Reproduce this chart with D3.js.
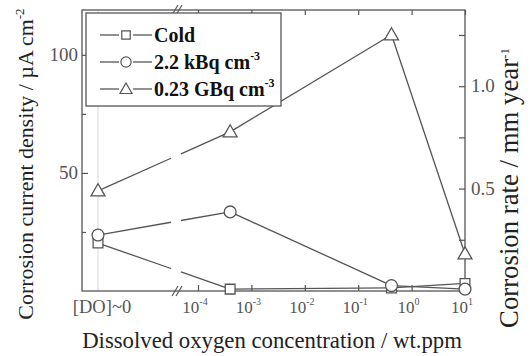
<!DOCTYPE html>
<html>
<head>
<meta charset="utf-8">
<script src="https://cdn.jsdelivr.net/npm/d3@7"></script>
<style>
  body { margin: 0; background: #fff; }
  svg text { font-family: "Liberation Serif", "DejaVu Serif", serif; }
</style>
</head>
<body>
<div id="chart"></div>
<script>
// Datos
const xLabels = ["[DO]~0", 4e-4, 0.42, 10];      // primer punto: sin oxígeno disuelto
const seriesNames = ["Cold", "2.2 kBq cm", "0.23 GBq cm"];
const seriesSup = ["", "-3", "-3"];
const cold = [20.3, 0.8, 1.3, 3.2];
const kbq = [23.7, 33.5, 2.3, 0.8];
const gbq = [42.4, 67.4, 108.5, 15.7];
const leftTicks = [50, 100];
const leftMinor = [25, 75];
const rightTicks = [0.5, 1.0];
const rightMinor = [0.25, 0.75, 1.25];
const logTicks = [-4, -3, -2, -1, 0, 1];

const W = 530, H = 356;
const margin = {top: 10, right: 65, bottom: 65, left: 82};
const x0 = margin.left, x1 = W - margin.right;
const y0 = H - margin.bottom, y1 = margin.top;
const color = "#555";
const serif = "Liberation Serif";

const svg = d3.select("#chart").append("svg")
    .attr("width", W).attr("height", H);

// ajusta el tamaño de letra para ocupar un ancho dado
function ajustar(sel, ancho) {
    const fs = +sel.attr("font-size");
    const len = sel.node().getComputedTextLength();
    sel.attr("font-size", fs * ancho / len);
}

// Escalas
const xDO = x0 + 16;           // posición de [DO]~0
const xBreak = x0 + 96;        // corte del eje
const xLog = d3.scaleLog().domain([1e-4, 10]).range([198, x1]);
const xPos = v => (typeof v === "string" ? xDO : xLog(v));
const y = d3.scaleLinear().domain([0, 119]).range([y0, y1]);
const yR = d3.scaleLinear().domain([0, 1.372]).range([y0, y1]);

// Línea gris en [DO]~0
svg.append("line")
    .attr("x1", xDO).attr("x2", xDO).attr("y1", y1).attr("y2", y0)
    .attr("stroke", "#ddd").attr("stroke-width", 1.2);

// Marco
svg.append("rect")
    .attr("x", x0).attr("y", y1).attr("width", x1 - x0).attr("height", y0 - y1)
    .attr("fill", "none").attr("stroke", color).attr("stroke-width", 1.3);

// Ticks del eje izquierdo (hacia dentro)
svg.append("g").attr("transform", `translate(${x0},0)`)
    .call(d3.axisRight(y).tickValues(leftTicks).tickSize(6).tickFormat(""))
    .call(g => g.select(".domain").remove());
svg.append("g").attr("transform", `translate(${x0},0)`)
    .call(d3.axisRight(y).tickValues(leftMinor).tickSize(4).tickFormat(""))
    .call(g => g.select(".domain").remove());
svg.append("g").selectAll("text").data(leftTicks).join("text")
    .attr("x", x0 - 4).attr("y", d => y(d) + 6)
    .attr("text-anchor", "end").attr("font-size", 19).attr("fill", color)
    .attr("font-family", serif)
    .text(d => d);

// Ticks del eje derecho
svg.append("g").attr("transform", `translate(${x1},0)`)
    .call(d3.axisLeft(yR).tickValues(rightTicks.concat(rightMinor)).tickSize(6).tickFormat(""))
    .call(g => g.select(".domain").remove());
svg.append("g").selectAll("text").data(rightTicks).join("text")
    .attr("x", x1 + 6).attr("y", d => yR(d) + 6)
    .attr("font-size", 19).attr("fill", color).attr("font-family", serif)
    .text(d => d.toFixed(1));

// Ticks del eje x (abajo y arriba)
const tickVals = logTicks.map(e => Math.pow(10, e));
svg.append("g").attr("transform", `translate(0,${y0})`)
    .call(d3.axisTop(xLog).tickValues(tickVals).tickSize(6).tickFormat(""))
    .call(g => g.select(".domain").remove());
svg.append("g").attr("transform", `translate(0,${y1})`)
    .call(d3.axisBottom(xLog).tickValues(tickVals).tickSize(5).tickFormat(""))
    .call(g => g.select(".domain").remove());
svg.selectAll(".tick line").attr("stroke", color).attr("stroke-width", 1.2);

const xl = svg.append("g").selectAll("text").data(logTicks).join("text")
    .attr("x", d => xLog(Math.pow(10, d)) - 3).attr("y", y0 + 22)
    .attr("text-anchor", "middle").attr("font-size", 17).attr("fill", color)
    .attr("font-family", serif);
xl.append("tspan").text("10");
xl.append("tspan").attr("dy", -8).attr("font-size", 10).text(d => d);
svg.append("text")
    .attr("x", xDO + 4).attr("y", y0 + 22)
    .attr("text-anchor", "middle").attr("font-size", 18.5).attr("fill", color)
    .attr("font-family", serif)
    .text(xLabels[0]);

// Marcas de corte "//"
[y0, y1].forEach(yy => {
    [-3, 1].forEach(dx => {
        svg.append("line")
            .attr("x1", xBreak + dx - 3).attr("y1", yy + 5)
            .attr("x2", xBreak + dx + 3).attr("y2", yy - 5)
            .attr("stroke", color).attr("stroke-width", 1.2);
    });
});

// Series
const series = [cold, kbq, gbq];
const shapes = [d3.symbolSquare, d3.symbolCircle, d3.symbolTriangle];
const sizes = [95, 110, 85];

series.forEach((vals, si) => {
    const pts = vals.map((v, i) => [xPos(xLabels[i]), y(v)]);
    // primer tramo con hueco junto al corte
    const [a, b] = [pts[0], pts[1]];
    const t = xx => (xx - a[0]) / (b[0] - a[0]);
    const at = tt => [a[0] + (b[0] - a[0]) * tt, a[1] + (b[1] - a[1]) * tt];
    const g1 = at(t(xBreak - 7)), g2 = at(t(xBreak + 3));
    const segs = [[a, g1], [g2, b], ...pts.slice(1, -1).map((p, i) => [p, pts[i + 2]])];
    svg.append("g").selectAll("line").data(segs).join("line")
        .attr("x1", d => d[0][0]).attr("y1", d => d[0][1])
        .attr("x2", d => d[1][0]).attr("y2", d => d[1][1])
        .attr("stroke", color).attr("stroke-width", 1.3);
    svg.append("g").selectAll("path").data(pts).join("path")
        .attr("transform", d => `translate(${d[0]},${d[1] + (si === 2 ? 1 : 0)})`)
        .attr("d", d3.symbol().type(shapes[si]).size(sizes[si]))
        .attr("fill", "#fff").attr("stroke", color).attr("stroke-width", 1.3);
});

// Leyenda
const leg = svg.append("g").attr("transform", "translate(86,13)");
leg.append("rect").attr("width", 195).attr("height", 93)
    .attr("fill", "#fff").attr("stroke", color).attr("stroke-width", 1.3);
seriesNames.forEach((name, i) => {
    const ly = 22 + i * 27;
    leg.append("line").attr("x1", 14).attr("x2", 33).attr("y1", ly).attr("y2", ly)
        .attr("stroke", color).attr("stroke-width", 1.3);
    leg.append("line").attr("x1", 47).attr("x2", 66).attr("y1", ly).attr("y2", ly)
        .attr("stroke", color).attr("stroke-width", 1.3);
    leg.append("path").attr("transform", `translate(40,${ly + (i === 2 ? 1 : 0)})`)
        .attr("d", d3.symbol().type(shapes[i]).size(sizes[i] * 0.75))
        .attr("fill", "#fff").attr("stroke", color).attr("stroke-width", 1.2);
    const tx = leg.append("text").attr("x", 68).attr("y", ly + 7)
        .attr("font-size", 20).attr("font-weight", "bold").attr("fill", "#111")
        .attr("font-family", serif);
    tx.append("tspan").text(name);
    if (seriesSup[i]) tx.append("tspan").attr("dy", -9).attr("font-size", 12).text(seriesSup[i]);
});

// Títulos de los ejes
const tl = svg.append("text")
    .attr("transform", `translate(33,164) rotate(-90)`)
    .attr("text-anchor", "middle").attr("font-size", 21).attr("fill", "#222")
    .attr("font-family", serif);
tl.append("tspan").text("Corrosion current density / µA cm");
tl.append("tspan").attr("dy", -9).attr("font-size", 13).text("-2");
ajustar(tl, 312);

const tr = svg.append("text")
    .attr("transform", `translate(518,188) rotate(-90)`)
    .attr("text-anchor", "middle").attr("font-size", 21).attr("fill", "#222")
    .attr("font-family", serif);
tr.append("tspan").text("Corrosion rate / mm year");
tr.append("tspan").attr("dy", -9).attr("font-size", 13).text("-1");
ajustar(tr, 283);

const tb = svg.append("text")
    .attr("x", 272).attr("y", H - 8)
    .attr("text-anchor", "middle").attr("font-size", 21).attr("fill", "#222")
    .attr("font-family", serif)
    .text("Dissolved oxygen concentration / wt.ppm");
ajustar(tb, 380);
</script>
</body>
</html>
